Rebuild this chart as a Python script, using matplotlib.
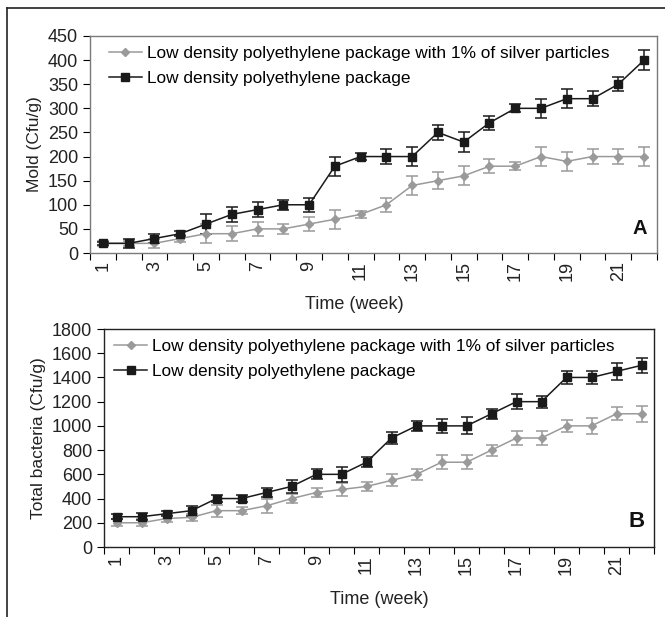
"""
Mold and total bacteria counts over 22 weeks for two packaging types.
"""

import numpy as np
import matplotlib.pyplot as plt
from matplotlib.lines import Line2D

plt.rcParams['font.family'] = ['Liberation Sans', 'DejaVu Sans']

weeks = list(range(1, 23))

# panel A: mold
mold_silver = [20, 20, 20, 30, 40, 40, 50, 50, 60, 70, 80, 100,
               140, 150, 160, 180, 180, 200, 190, 200, 200, 200]
mold_silver_err = [5, 5, 10, 8, 20, 15, 15, 10, 15, 20, 8, 15,
                   20, 17, 20, 15, 8, 20, 20, 15, 15, 20]
mold_plain = [20, 20, 30, 40, 60, 80, 90, 100, 100, 180, 200, 200,
              200, 250, 230, 270, 300, 300, 320, 320, 350, 400]
mold_plain_err = [3, 10, 10, 5, 20, 15, 15, 10, 15, 20, 8, 15,
                  20, 15, 20, 15, 8, 20, 20, 15, 15, 20]

# panel B: total bacteria
bact_silver = [200, 200, 235, 245, 300, 300, 340, 400, 450, 475, 500, 550,
               600, 700, 700, 800, 900, 900, 1000, 1000, 1100, 1100]
bact_silver_err = [30, 30, 30, 30, 50, 30, 60, 40, 40, 50, 40, 50,
                   45, 60, 60, 45, 60, 60, 50, 65, 55, 65]
bact_plain = [250, 250, 275, 300, 400, 400, 450, 500, 600, 600, 700, 900,
              1000, 1000, 1000, 1100, 1200, 1200, 1400, 1400, 1450, 1500]
bact_plain_err = [20, 30, 20, 40, 30, 30, 40, 50, 40, 60, 40, 50,
                  40, 60, 70, 40, 60, 50, 55, 55, 70, 60]

label_silver = 'Low density polyethylene package with 1% of silver particles'
label_plain = 'Low density polyethylene package'

gray = '#9a9a9a'
black = '#1a1a1a'

fig = plt.figure(figsize=(6.65, 6.17), dpi=100)

# outer frame of the figure (top and left only)
fig.add_artist(Line2D([7/665, 1], [1 - 8/617, 1 - 8/617], color='#222222', lw=1.2))
fig.add_artist(Line2D([7/665, 7/665], [0, 1 - 8/617], color='#222222', lw=1.2))

ax_a = fig.add_axes([90/665, 1 - 253/617, 567/665, 217/617])
ax_b = fig.add_axes([104/665, 1 - 547/617, 550/665, 218/617])

panels = [
    (ax_a, mold_silver, mold_silver_err, mold_plain, mold_plain_err,
     'Mold (Cfu/g)', 450, 50, 'A', 14.5, '#7a7a7a', 0.015, 0.467),
    (ax_b, bact_silver, bact_silver_err, bact_plain, bact_plain_err,
     'Total bacteria (Cfu/g)', 1800, 200, 'B', 16, '#222222', 0.0, 0.5),
]

x = np.arange(len(weeks))
for ax, s, se, p, pe, ylab, ymax, ystep, tag, tag_size, spine_col, leg_x, xlab_x in panels:
    ax.errorbar(x, s, yerr=se, color=gray, ecolor=gray, marker='D', ms=4.5,
                lw=1.1, capsize=4, elinewidth=1.1, capthick=1.1)
    ax.errorbar(x, p, yerr=pe, color=black, ecolor=black, marker='s', ms=6,
                lw=1.1, capsize=4, elinewidth=1.1, capthick=1.1)

    ax.set_xlim(-0.5, len(weeks) - 0.5)
    ax.set_ylim(0, ymax)
    ax.set_yticks(np.arange(0, ymax + 1, ystep))

    # ticks at category boundaries, labels every other week
    ax.set_xticks(np.arange(-0.5, len(weeks), 1.0))
    ax.set_xticklabels([])
    ax.set_xticks(x[::2], minor=True)
    ax.set_xticklabels([str(w) for w in weeks[::2]], minor=True, rotation=90)
    ax.tick_params(axis='x', which='minor', length=0, labelsize=13, pad=6,
                   labelcolor='#222222')
    ax.tick_params(axis='x', which='major', length=5, direction='out')
    ax.tick_params(axis='y', length=5, direction='out', labelsize=13,
                   labelcolor='#222222')

    for sp in ax.spines.values():
        sp.set_color(spine_col)
        sp.set_linewidth(1.0)

    ax.set_xlabel('Time (week)', fontsize=13, color='#222222')
    ax.xaxis.set_label_coords(xlab_x, -0.2)
    ax.set_ylabel(ylab, fontsize=12.5, color='#222222')
    ax.text(0.983, 0.068, tag, transform=ax.transAxes, ha='right', va='bottom',
            fontsize=tag_size, fontweight='bold', color='#111111')

    handles = [
        Line2D([], [], color=gray, marker='D', ms=4.5, lw=1.1),
        Line2D([], [], color=black, marker='s', ms=6, lw=1.1),
    ]
    ax.legend(handles, [label_silver, label_plain], loc='upper left', frameon=False,
              fontsize=12.4, handlelength=1.9, handletextpad=0.3, borderaxespad=0.2,
              labelspacing=0.55, bbox_to_anchor=(leg_x, 1.0))

fig.savefig('out.png', dpi=100)
